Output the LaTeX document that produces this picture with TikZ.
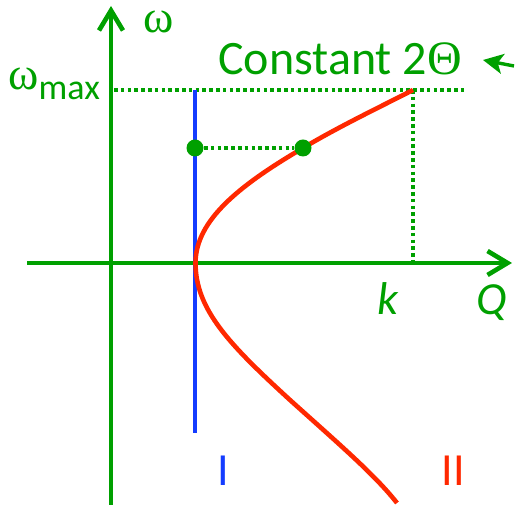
\documentclass[tikz,border=0pt]{standalone}
\usepackage{fontspec}
\setmainfont{Carlito}
\newfontfamily\greekfont{Liberation Serif}
\usetikzlibrary{arrows.meta}
\definecolor{axisgreen}{RGB}{0,160,0}
\definecolor{curvered}{RGB}{255,40,0}
\definecolor{lineblue}{RGB}{20,60,255}
\tikzset{
  axis/.style={axisgreen, line width=2.3pt, -{Straight Barb[length=10pt,width=12pt,line width=2.3pt]}},
  guide/.style={axisgreen, line width=1.8pt, dash pattern=on 1.8pt off 1.6pt},
  dot/.style={circle, fill=axisgreen, inner sep=0pt, minimum size=8.5pt},
  lbl/.style={inner sep=0pt, font=\fontsize{23}{26}\selectfont},
}

\begin{document}
\begin{tikzpicture}[x=0.5pt, y=-0.5pt]

    \useasboundingbox (0,0) rectangle (515,506);

    %%%%%%%%%%%%%%%%%%
    %%%%% Axes %%%%%%%
    %%%%%%%%%%%%%%%%%%
    \coordinate (wLow) at (111,505);
    \coordinate (wTop) at (111,6);
    \coordinate (qLeft) at (27,263);
    \coordinate (qRight) at (512,263);
    \draw[axis] (wLow) -- (wTop);
    \draw[axis] (qLeft) -- (qRight);

    \node[lbl, anchor=base, text=axisgreen] (omega) at (159,33) {\greekfont ω};
    \node[lbl, anchor=base west, text=axisgreen] (omegamax) at (8,90)
        {{\greekfont ω}\raisebox{-5pt}{\fontsize{18}{20}\selectfont max}};
    \node[lbl, anchor=base, text=axisgreen] (klabel) at (388,315) {\itshape k};
    \node[lbl, anchor=base, text=axisgreen] (qlabel) at (492,315) {\itshape Q};

    %%%%%%%%%%%%%%%%%%
    %%%%% Guides %%%%%
    %%%%%%%%%%%%%%%%%%
    \coordinate (wmaxL) at (114,90);
    \coordinate (wmaxR) at (465,90);
    \coordinate (kTop) at (413,90);
    \coordinate (kBot) at (413,261);
    \draw[guide] (wmaxL) -- (wmaxR);
    \draw[guide] (kTop) -- (kBot);

    % Line I
    \coordinate (blueTop) at (195,90);
    \coordinate (blueLow) at (195,433);
    \draw[lineblue, line width=2.3pt] (blueTop) -- (blueLow);
    \node[lbl, anchor=base, text=lineblue] (one) at (223,486) {I};

    % Curve II
    \coordinate (vertex) at (195.5,263);
    \coordinate (redTop) at (413,90);
    \coordinate (redLow) at (397,503);
    \draw[curvered, line width=2.3pt]
        (redTop) .. controls (380,107) and (340,126) .. (303,148)
        .. controls (240,185) and (195.5,220) .. (vertex)
        .. controls (195.5,310) and (230,345) .. (290,400)
        .. controls (340,445) and (375,475) .. (redLow);
    \node[lbl, anchor=base, text=curvered] (two) at (453,486) {II};

    % Points at equal omega
    \node[dot] (p1) at (195,148) {};
    \node[dot] (p2) at (303,148) {};
    \draw[guide] (p1) -- (p2);

    % Constant 2 Theta
    \node[lbl, anchor=base, text=axisgreen, font=\fontsize{24}{28}\selectfont] (const) at (340,75)
        {Constant 2{\greekfont Θ}};
    \coordinate (hintTail) at (514,66);
    \coordinate (hintTip) at (483,60);
    \draw[axisgreen, line width=1.7pt, -{Stealth[length=10pt,width=10pt,inset=2.5pt]}] (hintTail) -- (hintTip);

\end{tikzpicture}
\end{document}
